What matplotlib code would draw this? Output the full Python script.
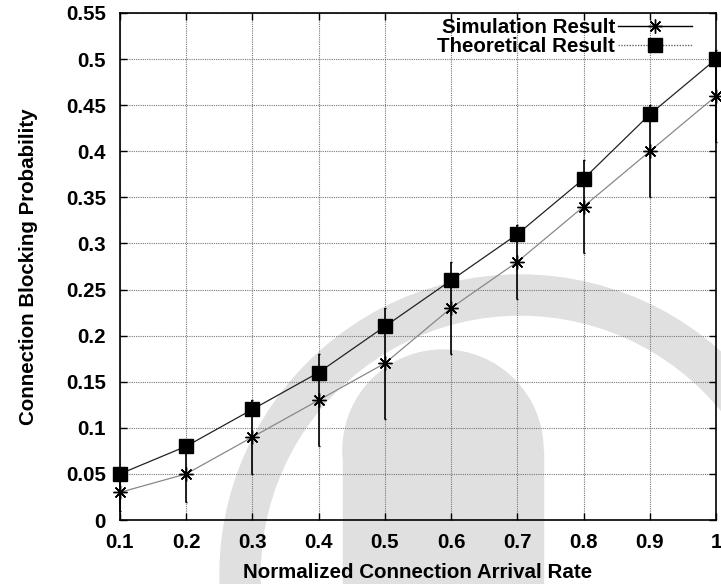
import matplotlib
matplotlib.use('Agg')
import matplotlib.pyplot as plt
from matplotlib.lines import Line2D
from matplotlib.patches import Wedge, Circle, Rectangle
from matplotlib.transforms import IdentityTransform

plt.rcParams['font.family'] = ['Liberation Sans', 'DejaVu Sans']
plt.rcParams['font.weight'] = 'bold'
plt.rcParams['axes.labelweight'] = 'bold'
plt.rcParams['font.size'] = 14.8

# arrival rate vs blocking probability
rate = [0.1, 0.2, 0.3, 0.4, 0.5, 0.6, 0.7, 0.8, 0.9, 1.0]
sim_block = [0.03, 0.05, 0.09, 0.13, 0.17, 0.23, 0.28, 0.34, 0.40, 0.46]
sim_err = [0.02, 0.03, 0.04, 0.05, 0.06, 0.05, 0.04, 0.05, 0.05, 0.05]
theory_block = [0.05, 0.08, 0.12, 0.16, 0.21, 0.26, 0.31, 0.37, 0.44, 0.50]

xticks = [0.1, 0.2, 0.3, 0.4, 0.5, 0.6, 0.7, 0.8, 0.9, 1.0]
xtick_labels = ['0.1', '0.2', '0.3', '0.4', '0.5', '0.6', '0.7', '0.8', '0.9', '1']
yticks = [0, 0.05, 0.1, 0.15, 0.2, 0.25, 0.3, 0.35, 0.4, 0.45, 0.5, 0.55]
ytick_labels = ['0', '0.05', '0.1', '0.15', '0.2', '0.25', '0.3', '0.35', '0.4', '0.45', '0.5', '0.55']

fig = plt.figure(figsize=(7.21, 5.84), dpi=100)

# faint background logo, in pixel coords
wm = '#e0e0e0'
px = IdentityTransform()
fig.add_artist(Circle((443, 134), 100, color=wm, transform=px, zorder=-5))
fig.add_artist(Rectangle((343, 0), 200, 134, color=wm, transform=px, zorder=-5))
fig.add_artist(Wedge((520, 9), 300, -20, 200, width=40, color=wm, transform=px, zorder=-5))

ax = fig.add_axes([120 / 721, 64 / 584, 596 / 721, 507 / 584])
ax.set_facecolor('none')

ax.plot(rate, theory_block, color='#222222', lw=0.9, zorder=3)
ax.plot(rate, sim_block, color='#888888', lw=0.9, zorder=3)
ax.errorbar(rate, sim_block, yerr=sim_err, fmt='none', ecolor='black',
            elinewidth=1.2, capsize=1, zorder=4, clip_on=False)
ax.plot(rate, sim_block, ls='none', marker=(8, 2, 0), ms=10, mec='black',
        mew=1.0, zorder=5, clip_on=False)
ax.plot(rate, theory_block, ls='none', marker='s', ms=10, color='black',
        zorder=6, clip_on=False)

ax.set_xlim(0.1, 1.0)
ax.set_ylim(0, 0.55)
ax.set_xticks(xticks)
ax.set_xticklabels(xtick_labels)
ax.set_yticks(yticks)
ax.set_yticklabels(ytick_labels)
ax.tick_params(direction='in', length=5, width=1, top=True, right=True)
ax.tick_params(axis='x', pad=9)
ax.tick_params(axis='y', pad=10)
ax.grid(True, color='#777777', lw=0.8, ls=(0, (1, 1)))
for s in ax.spines.values():
    s.set_linewidth(1.2)

ax.set_xlabel('Normalized Connection Arrival Rate', labelpad=8)
ax.set_ylabel('Connection Blocking Probability', labelpad=20)

handles = [
    Line2D([], [], color='black', lw=1, marker=(8, 2, 0), ms=10, mew=1.0),
    Line2D([], [], color='#666666', lw=1, ls=(0, (1, 1)), marker='s', ms=10,
           mfc='black', mec='black'),
]
ax.legend(handles, ['Simulation Result', 'Theoretical Result'],
          loc='upper right', bbox_to_anchor=(0.96, 0.99), frameon=False,
          markerfirst=False, borderpad=0, borderaxespad=0,
          handlelength=3.6, handletextpad=0.15, labelspacing=0.0)

fig.savefig('out.png', dpi=100)
